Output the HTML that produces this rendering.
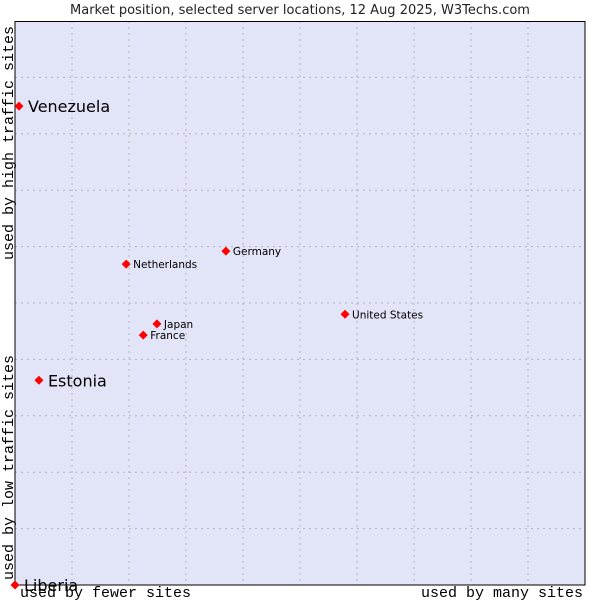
<!DOCTYPE html>
<html><head><meta charset="utf-8"><style>
body{margin:0;background:#fff;width:600px;height:600px;overflow:hidden}
svg{display:block}
</style></head><body>
<svg id="chart" width="600" height="600" xmlns="http://www.w3.org/2000/svg">
<text x="300" y="14" text-anchor="middle" font-family="DejaVu Sans, sans-serif" font-size="13" fill="#222">Market position, selected server locations, 12 Aug 2025, W3Techs.com</text>
<rect x="15" y="21" width="570" height="564" fill="#e2e4f8"/>
<g id="grid"></g>
<rect x="15" y="21.5" width="570" height="563.5" fill="none" stroke="#000" stroke-width="1"/>
<g id="points"></g>
<text x="20" y="597" font-family="Liberation Mono, DejaVu Sans Mono, monospace" font-size="15" fill="#000">used by fewer sites</text>
<text x="583" y="597" text-anchor="end" font-family="Liberation Mono, DejaVu Sans Mono, monospace" font-size="15" fill="#000">used by many sites</text>
<text transform="translate(13,580) rotate(-90)" font-family="Liberation Mono, DejaVu Sans Mono, monospace" font-size="15" fill="#000">used by low traffic sites</text>
<text transform="translate(13,260) rotate(-90)" font-family="Liberation Mono, DejaVu Sans Mono, monospace" font-size="15" fill="#000">used by high traffic sites</text>
</svg>
<script>
const names = ["Venezuela","Estonia","Liberia","Netherlands","Germany","United States","Japan","France"];
const xVals = [0.7,4.2,0,19.5,37.0,57.9,24.9,22.5];
const yVals = [84.9,36.3,0,56.9,59.2,48.0,46.3,44.3];
const bigLabel = [true,true,true,false,false,false,false,false];
const NS="http://www.w3.org/2000/svg";
const X0=15,X1=585,Y0=585,Y1=21;
function sx(v){return X0+v/100*(X1-X0);}
function sy(v){return Y0-v/100*(Y0-Y1);}
const grid=document.getElementById('grid');
for(let i=1;i<10;i++){
  const l=document.createElementNS(NS,'line');
  
  
  const x=sx(i*10);
  l.setAttribute('x1',x);l.setAttribute('x2',x);l.setAttribute('y1',Y1);l.setAttribute('y2',Y0);
  l.setAttribute('stroke','#b4b4b4');l.setAttribute('stroke-dasharray','2,4');
  grid.appendChild(l);
  const h=document.createElementNS(NS,'line');
  
  
  const y=sy(i*10);
  h.setAttribute('x1',X0);h.setAttribute('x2',X1);h.setAttribute('y1',y);h.setAttribute('y2',y);
  h.setAttribute('stroke','#b4b4b4');h.setAttribute('stroke-dasharray','2,4');
  grid.appendChild(h);
}
const pts=document.getElementById('points');
names.forEach((n,i)=>{
  const x=sx(xVals[i]),y=sy(yVals[i]);
  const d=document.createElementNS(NS,'polygon');
  
  
  d.setAttribute('points',`${x},${y-4.5} ${x+4.5},${y} ${x},${y+4.5} ${x-4.5},${y}`);
  d.setAttribute('fill','#f00');
  pts.appendChild(d);
  const t=document.createElementNS(NS,'text');
  
  
  t.setAttribute('x',x+(bigLabel[i]?9:7));
  t.setAttribute('y',y+(bigLabel[i]?6:4));
  t.setAttribute('font-family','DejaVu Sans, sans-serif');
  t.setAttribute('font-size',bigLabel[i]?'16':'10.5');
  t.setAttribute('fill','#000');
  t.textContent=n;
  pts.appendChild(t);
});
</script>
</body></html>
